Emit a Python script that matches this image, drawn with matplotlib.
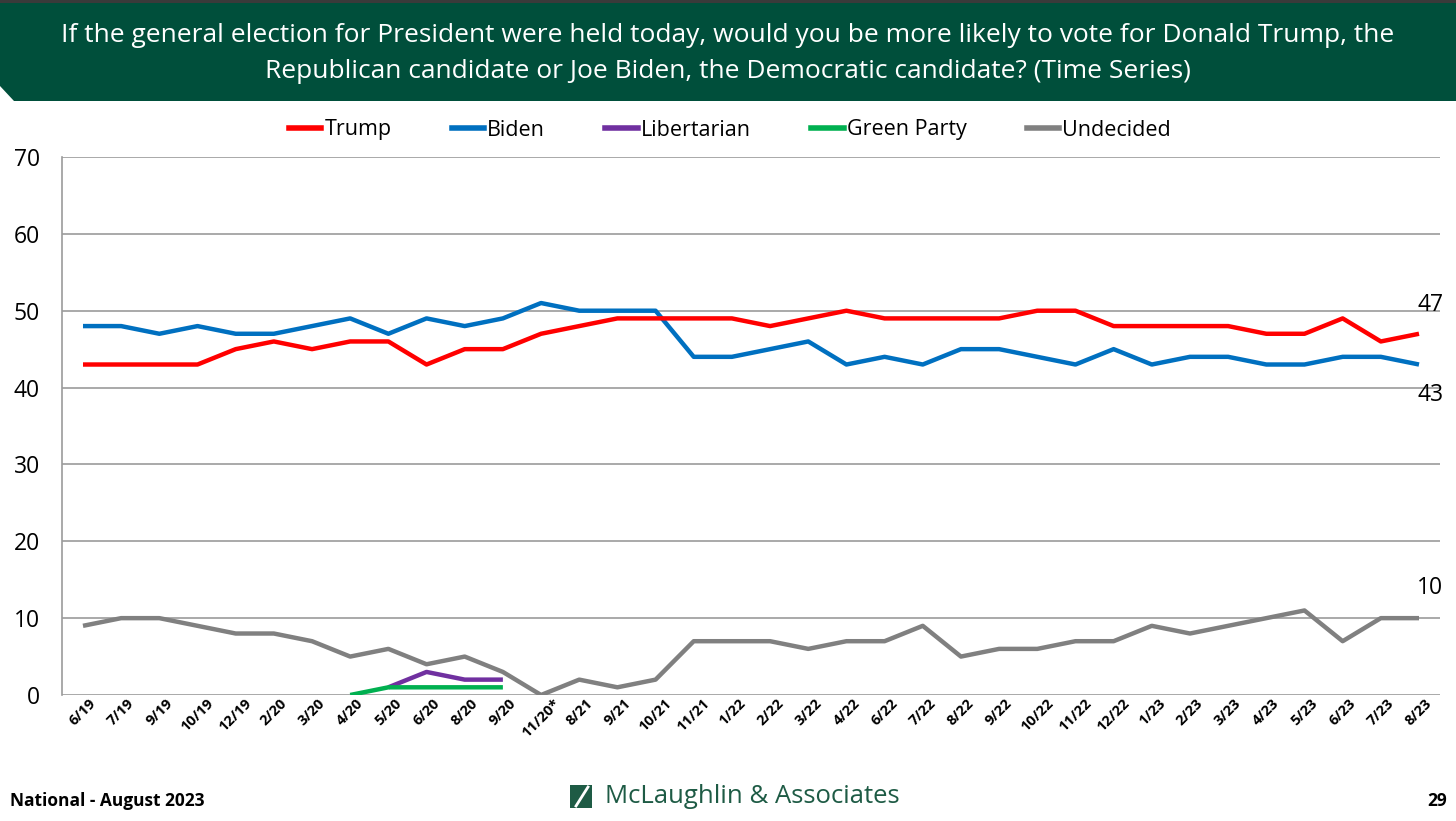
import matplotlib
matplotlib.use("Agg")
import matplotlib.pyplot as plt
from matplotlib.patches import Polygon, Rectangle
from matplotlib.lines import Line2D

labels = ["6/19", "7/19", "9/19", "10/19", "12/19", "2/20", "3/20", "4/20", "5/20", "6/20",
          "8/20", "9/20", "11/20*", "8/21", "9/21", "10/21", "11/21", "1/22", "2/22", "3/22",
          "4/22", "6/22", "7/22", "8/22", "9/22", "10/22", "11/22", "12/22", "1/23", "2/23",
          "3/23", "4/23", "5/23", "6/23", "7/23", "8/23"]
trump = [43, 43, 43, 43, 45, 46, 45, 46, 46, 43, 45, 45, 47, 48, 49, 49, 49, 49, 48, 49,
         50, 49, 49, 49, 49, 50, 50, 48, 48, 48, 48, 47, 47, 49, 46, 47]
biden = [48, 48, 47, 48, 47, 47, 48, 49, 47, 49, 48, 49, 51, 50, 50, 50, 44, 44, 45, 46,
         43, 44, 43, 45, 45, 44, 43, 45, 43, 44, 44, 43, 43, 44, 44, 43]
undecided = [9, 10, 10, 9, 8, 8, 7, 5, 6, 4, 5, 3, 0, 2, 1, 2, 7, 7, 7, 6,
             7, 7, 9, 5, 6, 6, 7, 7, 9, 8, 9, 10, 11, 7, 10, 10]
lib_start = 8
libertarian = [1, 3, 2, 2]
green_start = 7
green = [0, 1, 1, 1, 1]

series_names = ["Trump", "Biden", "Libertarian", "Green Party", "Undecided"]
colors = ["#FF0000", "#0070C0", "#7030A0", "#00B050", "#808080"]

W, H = 1456, 821
fig = plt.figure(figsize=(W / 100, H / 100), dpi=100)
fig.patch.set_facecolor("white")

FONT = "Open Sans"

def px(x, y):
    return (x / W, 1 - y / H)

banner = Polygon([px(0, 3), px(1456, 3), px(1456, 101), px(14, 101), px(0, 86)],
                 closed=True, transform=fig.transFigure, facecolor="#004F3B",
                 edgecolor="none", zorder=0)
fig.patches.append(banner)
fig.patches.append(Rectangle((0, 1 - 3 / H), 1, 3 / H, transform=fig.transFigure,
                             facecolor="#3a3a3a", edgecolor="none"))
fig.text(728 / W, 1 - 36 / H,
         "If the general election for President were held today, would you be more likely to vote for Donald Trump, the",
         ha="center", va="center", color="white", fontsize=19, family=FONT)
fig.text(728 / W, 1 - 72 / H,
         "Republican candidate or Joe Biden, the Democratic candidate? (Time Series)",
         ha="center", va="center", color="white", fontsize=19, family=FONT)

ax = fig.add_axes([62 / W, 1 - 695 / H, (1440 - 62) / W, (695 - 157) / H])
x = list(range(len(labels)))
ax.plot(x, trump, color=colors[0], lw=3.2, solid_capstyle="butt", zorder=4)
ax.plot(x, biden, color=colors[1], lw=3.2, solid_capstyle="butt", zorder=3)
ax.plot(x[lib_start:lib_start + len(libertarian)], libertarian, color=colors[2], lw=3.2,
        solid_capstyle="butt", zorder=3)
ax.plot(x[green_start:green_start + len(green)], green, color=colors[3], lw=3.2,
        solid_capstyle="butt", zorder=4)
ax.plot(x, undecided, color=colors[4], lw=3.2, solid_capstyle="butt", zorder=2)

ax.set_xlim(-0.55, 35.55)
ax.set_ylim(0, 70)
ax.set_yticks(range(0, 71, 10))
ax.set_xticks(x)
ax.set_xticklabels(labels, rotation=45, ha="center", fontsize=10.5, fontweight="bold",
                   family=FONT)
for lab in ax.get_yticklabels():
    lab.set_family(FONT)
ax.tick_params(axis="y", length=0, pad=16, labelsize=16.5)
ax.tick_params(axis="x", length=0, pad=1)
ax.grid(axis="y", color="#9b9b9b", lw=1.2)
ax.set_axisbelow(True)
for s in ["top", "right", "bottom"]:
    ax.spines[s].set_visible(False)
ax.spines["left"].set_color("#9b9b9b")
ax.spines["left"].set_linewidth(1.2)

ax.annotate(str(trump[-1]), (x[-1], trump[-1]), xytext=(8, 21), textcoords="offset points",
            ha="center", va="center", fontsize=16.5, family=FONT)
ax.annotate(str(biden[-1]), (x[-1], biden[-1]), xytext=(8, -22), textcoords="offset points",
            ha="center", va="center", fontsize=16.5, family=FONT)
ax.annotate(str(undecided[-1]), (x[-1], undecided[-1]), xytext=(8, 22), textcoords="offset points",
            ha="center", va="center", fontsize=16.5, family=FONT)

handles = [Line2D([0], [0], color=c, lw=4) for c in colors]
fig.legend(handles, series_names, loc="center", bbox_to_anchor=(730 / W, 1 - 130 / H),
           ncol=5, frameon=False, handlelength=1.5, handletextpad=0.15, columnspacing=2.8,
           prop={"family": FONT, "size": 15.5})

fig.text(10 / W, 1 - 801 / H, "National - August 2023", ha="left", va="center",
         fontsize=12.5, fontweight="bold", family=FONT)
fig.text(1447 / W, 1 - 801 / H, "29", ha="right", va="center",
         fontsize=12.5, fontweight="bold", family=FONT)
fig.patches.append(Rectangle((570 / W, 1 - 808 / H), 22 / W, 23 / H, transform=fig.transFigure,
                             facecolor="#1E5B45", edgecolor="none"))
fig.lines.append(Line2D([576 / W, 588 / W], [1 - 806 / H, 1 - 787 / H], transform=fig.transFigure,
                        color="white", lw=2))
fig.text(605 / W, 1 - 796 / H, "McLaughlin & Associates", ha="left", va="center",
         fontsize=18.5, color="#1E5B45", family=FONT)

fig.savefig("out.png", dpi=100)
